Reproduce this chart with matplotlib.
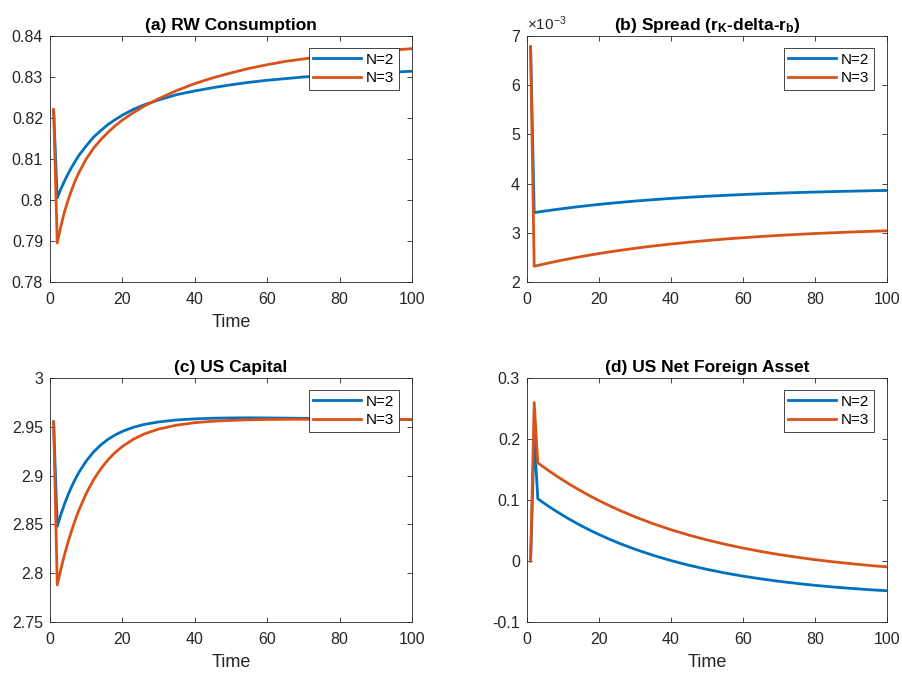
import matplotlib
matplotlib.use("Agg")
import matplotlib.pyplot as plt
from matplotlib.ticker import FuncFormatter, MultipleLocator

plt.rcParams['font.family'] = ['Liberation Sans', 'DejaVu Sans']
plt.rcParams['mathtext.fontset'] = 'custom'
plt.rcParams['mathtext.rm'] = 'Liberation Sans'
plt.rcParams['mathtext.bf'] = 'Liberation Sans:bold'
plt.rcParams['mathtext.it'] = 'Liberation Sans:italic'

# ---------------- data ----------------
t = [1, 2, 3, 4, 5, 6, 7, 8, 10, 12, 14, 16, 18, 20, 23, 26, 30, 35, 40, 45,
     50, 55, 60, 65, 70, 75, 80, 85, 90, 95, 100]

rw_cons_n2 = [0.8220, 0.8005, 0.8027, 0.8046, 0.8064, 0.8080, 0.8095, 0.8109,
              0.8132, 0.8153, 0.8169, 0.8184, 0.8196, 0.8207, 0.8221, 0.8232,
              0.8244, 0.8257, 0.8266, 0.8274, 0.8281, 0.8287, 0.8292, 0.8296,
              0.8300, 0.8303, 0.8306, 0.8308, 0.8310, 0.8312, 0.8314]
rw_cons_n3 = [0.8220, 0.7895, 0.7936, 0.7971, 0.8000, 0.8025, 0.8048, 0.8067,
              0.8100, 0.8126, 0.8147, 0.8165, 0.8181, 0.8195, 0.8213, 0.8229,
              0.8247, 0.8267, 0.8284, 0.8298, 0.8310, 0.8321, 0.8330, 0.8338,
              0.8344, 0.8350, 0.8355, 0.8359, 0.8363, 0.8366, 0.8369]

spread_n2 = [6.78e-3, 3.410e-3, 3.421e-3, 3.432e-3, 3.443e-3, 3.453e-3, 3.463e-3,
             3.473e-3, 3.492e-3, 3.511e-3, 3.528e-3, 3.545e-3, 3.561e-3, 3.577e-3,
             3.599e-3, 3.619e-3, 3.645e-3, 3.673e-3, 3.699e-3, 3.722e-3, 3.743e-3,
             3.761e-3, 3.778e-3, 3.793e-3, 3.806e-3, 3.818e-3, 3.828e-3, 3.838e-3,
             3.846e-3, 3.854e-3, 3.861e-3]
spread_n3 = [6.78e-3, 2.320e-3, 2.337e-3, 2.354e-3, 2.370e-3, 2.386e-3, 2.402e-3,
             2.417e-3, 2.447e-3, 2.475e-3, 2.503e-3, 2.529e-3, 2.554e-3, 2.578e-3,
             2.613e-3, 2.645e-3, 2.685e-3, 2.731e-3, 2.772e-3, 2.809e-3, 2.843e-3,
             2.873e-3, 2.900e-3, 2.925e-3, 2.947e-3, 2.967e-3, 2.985e-3, 3.001e-3,
             3.016e-3, 3.029e-3, 3.041e-3]

us_cap_n2 = [2.9550, 2.8480, 2.8601, 2.8708, 2.8804, 2.8890, 2.8966, 2.9034,
             2.9149, 2.9241, 2.9313, 2.9371, 2.9417, 2.9453, 2.9495, 2.9524,
             2.9550, 2.9570, 2.9581, 2.9588, 2.9591, 2.9592, 2.9591, 2.9589,
             2.9587, 2.9585, 2.9583, 2.9581, 2.9579, 2.9577, 2.9575]
us_cap_n3 = [2.9550, 2.7880, 2.8042, 2.8188, 2.8321, 2.8440, 2.8549, 2.8647,
             2.8816, 2.8955, 2.9068, 2.9161, 2.9237, 2.9299, 2.9372, 2.9426,
             2.9477, 2.9517, 2.9542, 2.9557, 2.9566, 2.9572, 2.9575, 2.9577,
             2.9578, 2.9579, 2.9579, 2.9578, 2.9577, 2.9576, 2.9575]

us_nfa_n2 = [0.0, 0.205, 0.1020, 0.0978, 0.0937, 0.0897, 0.0858, 0.0820, 0.0747,
             0.0678, 0.0612, 0.0550, 0.0490, 0.0434, 0.0355, 0.0282, 0.0193, 0.0094,
             0.0007, -0.0070, -0.0137, -0.0196, -0.0248, -0.0293, -0.0333, -0.0368,
             -0.0399, -0.0426, -0.0449, -0.0470, -0.0488]
us_nfa_n3 = [0.0, 0.260, 0.1610, 0.1566, 0.1524, 0.1482, 0.1442, 0.1402, 0.1325,
             0.1252, 0.1182, 0.1115, 0.1051, 0.0990, 0.0904, 0.0823, 0.0724, 0.0612,
             0.0513, 0.0424, 0.0345, 0.0275, 0.0212, 0.0156, 0.0106, 0.0062, 0.0022,
             -0.0013, -0.0044, -0.0072, -0.0097]

labels = ['N=2', 'N=3']
titles = ['(a) RW Consumption',
          r'(b) Spread (r$_{\mathbf{K}}$-delta-r$_{\mathbf{b}}$)',
          '(c) US Capital',
          '(d) US Net Foreign Asset']
xticks = [0, 20, 40, 60, 80, 100]
ylims = [(0.78, 0.84), (2e-3, 7e-3), (2.75, 3.0), (-0.1, 0.3)]
ysteps = [0.01, 1e-3, 0.05, 0.1]

colors = ['#0072BD', '#D95319']
axcol = '#262626'

fig = plt.figure(figsize=(9.02, 6.73), dpi=100)
W, H = 902, 673
boxes = [(50, 36, 412, 282), (527, 36, 887, 282),
         (50, 378, 412, 622), (527, 378, 887, 622)]
series = [(rw_cons_n2, rw_cons_n3), (spread_n2, spread_n3),
          (us_cap_n2, us_cap_n3), (us_nfa_n2, us_nfa_n3)]

for i, (box, (s2, s3)) in enumerate(zip(boxes, series)):
    l, tp, r, b = box
    ax = fig.add_axes([l / W, (H - b) / H, (r - l) / W, (b - tp) / H])
    ax.plot(t, s2, color=colors[0], lw=2.0, label=labels[0])
    ax.plot(t, s3, color=colors[1], lw=2.0, label=labels[1])
    ax.set_xlim(0, 100)
    ax.set_ylim(*ylims[i])
    ax.set_xticks(xticks)
    ax.yaxis.set_major_locator(MultipleLocator(ysteps[i]))
    ax.xaxis.set_major_formatter(FuncFormatter(lambda v, p: '%g' % round(v, 6)))
    if i == 1:
        ax.yaxis.set_major_formatter(FuncFormatter(lambda v, p: '%g' % round(v * 1e3, 6)))
        ax.text(0.0, 1.012, r'$\times$10$^{-3}$', transform=ax.transAxes,
                fontsize=11, color=axcol, ha='left', va='bottom')
    else:
        ax.yaxis.set_major_formatter(FuncFormatter(lambda v, p: '%g' % round(v, 6)))
    ax.tick_params(direction='in', top=True, right=True, length=3.5, width=0.6,
                   colors=axcol, labelsize=11.5)
    ax.tick_params(axis='x', pad=7)
    ax.tick_params(axis='y', pad=5)
    for sp in ax.spines.values():
        sp.set_linewidth(0.6)
        sp.set_color(axcol)
    ax.set_title(titles[i], fontsize=12.5, fontweight='bold', color='black', pad=4)
    if i != 1:
        ax.set_xlabel('Time', fontsize=13, color=axcol, labelpad=5)
    axw = r - l
    axh = b - tp
    leg = ax.legend(loc='upper right', bbox_to_anchor=(1 - 13 / axw, 1 - 12 / axh),
                    borderaxespad=0, fontsize=11, frameon=True, fancybox=False,
                    framealpha=1, edgecolor='#262626', handlelength=3.1,
                    handletextpad=0.35, labelspacing=0.3, borderpad=0.3)
    leg.get_frame().set_linewidth(0.6)

fig.savefig('out.png', dpi=100)
